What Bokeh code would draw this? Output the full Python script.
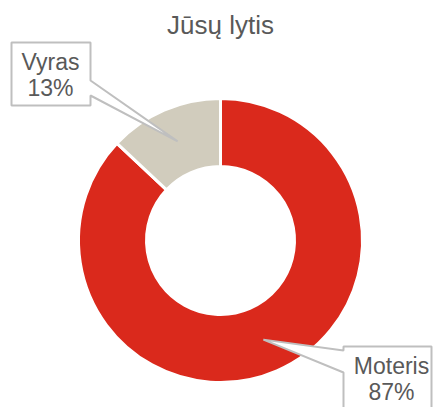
import math
from bokeh.plotting import figure
from bokeh.models import Range1d
from bokeh.core.properties import value
from bokeh.embed import file_html
from bokeh.resources import INLINE

title = "Jūsų lytis"
categories = ["Moteris", "Vyras"]
shares = [87, 13]
colors = ["#DA291C", "#D1CCBD"]

W, H = 433, 407
p = figure(width=W, height=H, output_backend="svg", toolbar_location=None,
           x_range=Range1d(0, W), y_range=Range1d(0, H), min_border=0)
p.axis.visible = False
p.grid.visible = False
p.outline_line_color = None
p.background_fill_color = "white"
p.border_fill_color = "white"

cx, cy = 220, H - 240
r_in, r_out = 74, 142
total = sum(shares)

# slices: clockwise from 12 o'clock
starts, ends, mids = [], [], []
cur = 90.0
for s in shares:
    sweep = 360.0 * s / total
    end = cur - sweep
    starts.append(math.radians(end))
    ends.append(math.radians(cur))
    mids.append(math.radians((cur + end) / 2))
    cur = end

p.annular_wedge(x=[cx] * len(shares), y=[cy] * len(shares), inner_radius=r_in, outer_radius=r_out,
                start_angle=starts, end_angle=ends, fill_color=colors,
                line_color="white", line_width=3)

rm = (r_in + r_out) / 2
# callouts (box in screen coords, pointer base on the box side); text y = visual centre
boxes = {
    "Vyras": dict(x0=11, x1=90, y0=42, y1=105, side="right", b0=80, b1=95, tx=50, ty1=61, ty2=87),
    "Moteris": dict(x0=343, x1=431, y0=346, y1=420, side="left", b0=350, b1=372, tx=391, ty1=365, ty2=391),
}
for i, cat in enumerate(categories):
    b = boxes[cat]
    tipx = cx + rm * math.cos(mids[i])
    tipy = cy + rm * math.sin(mids[i])
    if b["side"] == "right":
        pts = [(b["x0"], b["y0"]), (b["x1"], b["y0"]), (b["x1"], b["b0"]), None,
               (b["x1"], b["b1"]), (b["x1"], b["y1"]), (b["x0"], b["y1"])]
    else:
        pts = [(b["x0"], b["y0"]), (b["x1"], b["y0"]), (b["x1"], b["y1"]), (b["x0"], b["y1"]),
               (b["x0"], b["b1"]), None, (b["x0"], b["b0"])]
    xs, ys = [], []
    for pt in pts:
        if pt is None:
            xs.append(tipx)
            ys.append(tipy)
        else:
            xs.append(pt[0])
            ys.append(H - pt[1])
    p.patch(xs, ys, fill_color="white", line_color="#BFBFBF", line_width=2)
    p.text(x=[b["tx"], b["tx"]], y=[H - b["ty1"], H - b["ty2"]],
           text=[cat, f"{shares[i]}%"], text_font=value("Liberation Sans"),
           text_font_size="23px", text_color="#595959", text_align="center",
           text_baseline="alphabetic")

p.text(x=[220], y=[H - 24], text=[title], text_font=value("Liberation Sans"),
       text_font_size="26px", text_color="#595959", text_align="center",
       text_baseline="alphabetic")

open("out.html", "w").write(file_html(p, INLINE))
